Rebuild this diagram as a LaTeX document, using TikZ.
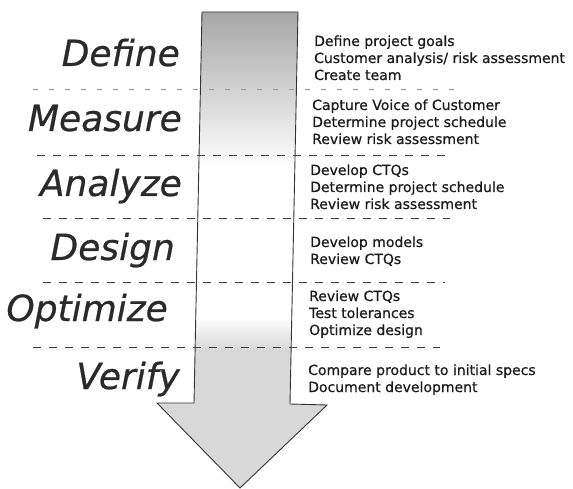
\documentclass[tikz,border=0pt]{standalone}
\usepackage{fontspec}
\setmainfont{DejaVu Sans}
\newfontfamily\taskfont{DejaVu Sans}[FakeBold=0.7]
\newfontfamily\phasefont{DejaVu Sans Oblique}[FakeBold=0.6]
\definecolor{arrowtop}{HTML}{A6A6A6}
\definecolor{arrowlow}{HTML}{D8D8D8}
\definecolor{ink}{HTML}{1C1C1C}
\definecolor{phaseink}{HTML}{2A2A2A}

% one line of tasks per node, stacked downwards from a first baseline
\newcommand\tasklist[4]{%
  \foreach \t [count=\k from 0] in {#4} {%
    \node[task] (#1-\k) at (#2, {#3+17*\k}) {\t};}}

\begin{document}
\begin{tikzpicture}[x=1pt, y=-1pt,
  phase/.style={font=\phasefont\fontsize{36}{40}\selectfont, text=phaseink,
                inner sep=0pt, anchor=base east},
  task/.style={font=\taskfont\fontsize{14}{17}\selectfont, text=ink,
               inner sep=0pt, anchor=base west},
  sep/.style={draw=black!75, line width=0.8pt, dash pattern=on 8pt off 8pt},
  firstsep/.style={draw=black!40, line width=0.9pt, dash pattern=on 5pt off 11pt},
  outline/.style={draw=black!80, line width=0.9pt, line join=miter}]
\useasboundingbox (0,0) rectangle (573,489);

% outline points of the big downward arrow
\coordinate (tl)  at (202,12);
\coordinate (tr)  at (298,12);
\coordinate (sr)  at (290,404);
\coordinate (hr)  at (327,405);
\coordinate (tip) at (240,488);
\coordinate (hl)  at (157,403);
\coordinate (sl)  at (194,403);

% arrow fill: grey fading to white, then light grey towards the head
\begin{scope}
  \clip (tl) -- (tr) -- (sr) -- (hr) -- (tip) -- (hl) -- (sl) -- cycle;
  \shade[top color=arrowtop, bottom color=white] (140,12) rectangle (340,168);
  \fill[white] (140,167) rectangle (340,318);
  \shade[top color=white, bottom color=arrowlow] (140,317) rectangle (340,350);
  \fill[arrowlow] (140,349) rectangle (340,490);
\end{scope}
\draw[outline] (tl) -- (tr) -- (sr) -- (hr) -- (tip) -- (hl) -- (sl) -- cycle;

% separators between the phases
\coordinate (s1a) at (33,89);   \coordinate (s1b) at (460,89);
\coordinate (s2a) at (37,155);  \coordinate (s2b) at (448,155);
\coordinate (s3a) at (43,218);  \coordinate (s3b) at (450,218);
\coordinate (s4a) at (43,282);  \coordinate (s4b) at (445,282);
\coordinate (s5a) at (33,347);  \coordinate (s5b) at (440,347);
\draw[firstsep] (s1a) -- (s1b);
\draw[sep] (s2a) -- (s2b);
\draw[sep] (s3a) -- (s3b);
\draw[sep] (s4a) -- (s4b);
\draw[sep] (s5a) -- (s5b);

% phase names
\node[phase] (define)   at (180,66)  {Define};
\node[phase] (measure)  at (182,131) {Measure};
\node[phase] (analyze)  at (182,196) {Analyze};
\node[phase] (design)   at (175,260) {Design};
\node[phase] (optimize) at (168,321) {Optimize};
\node[phase] (verify)   at (180,389) {Verify};

% activities of each phase
\tasklist{def}{314}{46}{Define project goals,{Customer analysis/ risk assessment},Create team}
\tasklist{mea}{312}{110}{Capture Voice of Customer,Determine project schedule,Review risk assessment}
\tasklist{ana}{310}{175}{Develop CTQs,Determine project schedule,Review risk assessment}
\tasklist{des}{310}{247}{Develop models,Review CTQs}
\tasklist{opt}{309}{301}{Review CTQs,Test tolerances,Optimize design}
\tasklist{ver}{308}{375}{Compare product to initial specs,Document development}
\end{tikzpicture}
\end{document}
